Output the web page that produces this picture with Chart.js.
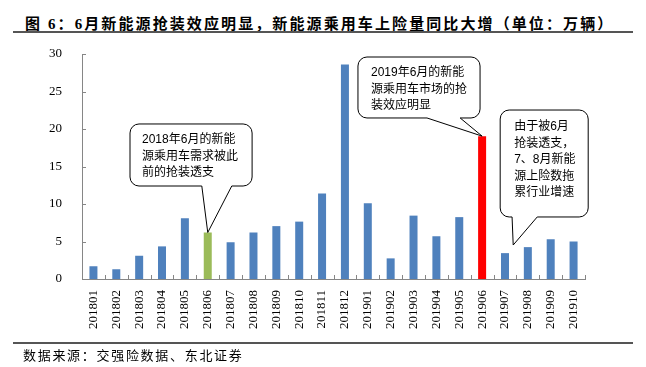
<!DOCTYPE html>
<html>
<head>
<meta charset="utf-8">
<script src="https://cdn.jsdelivr.net/npm/chart.js@4"></script>
<style>
  body { margin: 0; background: #fff; }
  #wrap { position: relative; width: 646px; height: 367px; overflow: hidden; }
  #chart { position: absolute; left: 0; top: 0; }
  .title { position: absolute; left: 25px; top: 12px; font: bold 15px "Liberation Serif", "Noto Sans CJK SC"; letter-spacing: 2.1px; color: #000; white-space: nowrap; }
  .rule { position: absolute; left: 13px; width: 620px; height: 2px; background: #555; }
  .source { position: absolute; left: 23px; top: 345px; font: 13px "Noto Sans CJK SC"; letter-spacing: 1.7px; color: #000; white-space: nowrap; }
</style>
</head>
<body>
<div id="wrap">
  <div class="title">图 6：6月新能源抢装效应明显，新能源乘用车上险量同比大增（单位：万辆）</div>
  <div class="rule" style="top: 31px;"></div>
  <canvas id="chart" width="646" height="367"></canvas>
  <div class="rule" style="top: 342px;"></div>
  <div class="source">数据来源：交强险数据、东北证券</div>
</div>

<script>
    const categories = ['201801', '201802', '201803', '201804', '201805', '201806', '201807', '201808',
        '201809', '201810', '201811', '201812', '201901', '201902', '201903', '201904', '201905',
        '201906', '201907', '201908', '201909', '201910'];
    const volumes = [1.7, 1.3, 3.1, 4.35, 8.1, 6.2, 4.9, 6.2, 7.05, 7.65, 11.4, 28.6,
        10.1, 2.75, 8.45, 5.7, 8.25, 19.05, 3.45, 4.25, 5.3, 5.0];
    const yTicks = [0, 5, 10, 15, 20, 25, 30];

    const note2018 = ['2018年6月的新能', '源乘用车需求被此', '前的抢装透支'];
    const note2019 = ['2019年6月的新能', '源乘用车市场的抢', '装效应明显'];
    const noteAfter = ['由于被6月', '抢装透支，', '7、8月新能', '源上险数拖', '累行业增速'];

    // callout boxes in data units: box [left idx, right idx, top val, bottom val], tail base idx, tip
    const callouts = [
        { lines: note2018, box: [1.6, 6.94, 20.67, 12.4], base: [4.74, 6.05], tip: [5, volumes[5]], pad: [12, 16] },
        { lines: note2019, box: [11.57, 16.91, 29.6, 21.47], base: [14.59, 16.04], tip: [17, volumes[17]], pad: [13, 16] },
        { lines: noteAfter, box: [17.79, 21.64, 22.53, 8.27], base: [18.31, 19.41], tip: [18.36, 4.53], pad: [14, 17] }
    ];

    const axisGray = '#868686';

    const calloutPlugin = {
        id: 'callouts',
        afterDatasetsDraw(chart) {
            const { ctx, scales: { x, y } } = chart;
            ctx.save();
            // inside tick marks
            ctx.strokeStyle = axisGray;
            ctx.lineWidth = 1;
            yTicks.forEach(v => {
                const py = Math.round(y.getPixelForValue(v)) + 0.5;
                ctx.beginPath();
                ctx.moveTo(x.left, py);
                ctx.lineTo(x.left + 4, py);
                ctx.stroke();
            });
            for (let i = 0; i <= categories.length; i++) {
                const px = Math.round(x.getPixelForValue(i - 0.5)) + 0.5;
                ctx.beginPath();
                ctx.moveTo(px, y.bottom);
                ctx.lineTo(px, y.bottom - 4);
                ctx.stroke();
            }

            callouts.forEach(c => {
                const l = x.getPixelForValue(c.box[0]), r = x.getPixelForValue(c.box[1]);
                const t = y.getPixelForValue(c.box[2]), b = y.getPixelForValue(c.box[3]);
                const b1 = x.getPixelForValue(c.base[0]), b2 = x.getPixelForValue(c.base[1]);
                const tx = x.getPixelForValue(c.tip[0]), ty = y.getPixelForValue(c.tip[1]);
                const rad = 9;
                ctx.beginPath();
                ctx.moveTo(l + rad, t);
                ctx.arcTo(r, t, r, b, rad);
                ctx.arcTo(r, b, l, b, rad);
                ctx.lineTo(b2, b);
                ctx.lineTo(tx, ty);
                ctx.lineTo(b1, b);
                ctx.arcTo(l, b, l, t, rad);
                ctx.arcTo(l, t, r, t, rad);
                ctx.closePath();
                ctx.fillStyle = '#fff';
                ctx.fill();
                ctx.strokeStyle = '#000';
                ctx.lineWidth = 1;
                ctx.stroke();

                ctx.fillStyle = '#000';
                ctx.font = '12px "Liberation Sans", "Noto Sans CJK SC"';
                ctx.textBaseline = 'middle';
                ctx.textAlign = 'left';
                c.lines.forEach((line, k) => {
                    ctx.fillText(line, l + c.pad[0], t + c.pad[1] + k * 16.5);
                });
            });
            ctx.restore();
        }
    };

    new Chart(document.getElementById('chart'), {
        type: 'bar',
        data: {
            labels: categories,
            datasets: [{
                data: volumes,
                backgroundColor: ctx => ctx.dataIndex === 5 ? '#9BBB59' : (ctx.dataIndex === 17 ? '#FF0000' : '#4F81BD'),
                barPercentage: 0.35,
                categoryPercentage: 1.0
            }]
        },
        options: {
            responsive: false,
            animation: false,
            layout: { padding: { left: 0, right: 61, top: 54, bottom: 0 } },
            plugins: { legend: { display: false }, tooltip: { enabled: false } },
            scales: {
                x: {
                    grid: { display: false },
                    border: { display: true, color: axisGray, width: 1 },
                    ticks: {
                        minRotation: 90, maxRotation: 90, padding: 3, color: '#000',
                        font: { family: '"Liberation Serif"', size: 13 }
                    },
                    afterFit: scale => { scale.height = 88; }
                },
                y: {
                    min: 0, max: 30,
                    grid: { display: false },
                    border: { display: true, color: axisGray, width: 1 },
                    ticks: {
                        stepSize: 5, padding: 12, color: '#000',
                        font: { family: '"Liberation Serif"', size: 13 }
                    },
                    afterFit: scale => { scale.width = 82; }
                }
            }
        },
        plugins: [calloutPlugin]
    });
</script>
</body>
</html>
